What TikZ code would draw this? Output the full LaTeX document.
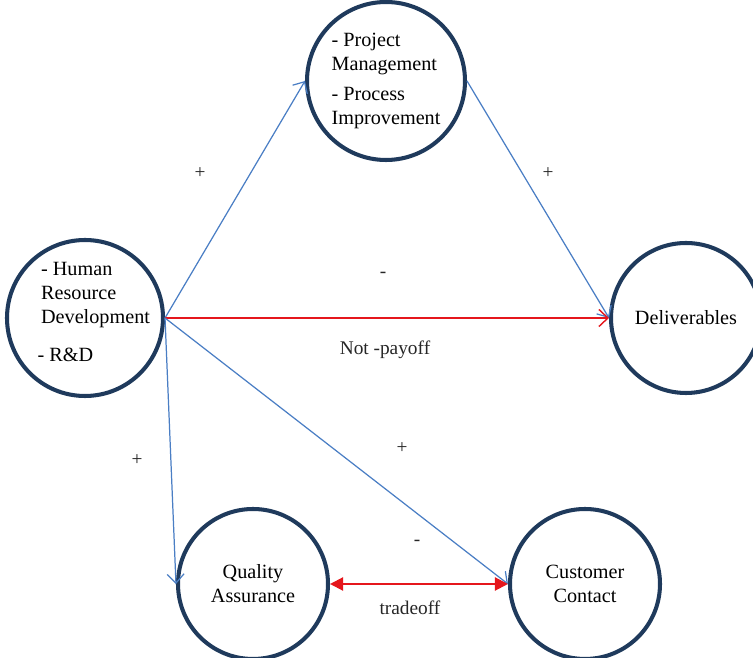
\documentclass[tikz,border=0pt]{standalone}
\usepackage{fontspec}
\setmainfont{Liberation Serif}
\usepackage{tikz}
\usetikzlibrary{arrows.meta}

\definecolor{rim}{HTML}{1F3A5C}
\definecolor{link}{HTML}{4A7EC4}
\definecolor{cost}{HTML}{E5161C}

\tikzset{factor/.style = {circle, draw=rim, line width=2.3pt, minimum size=3cm,
                          inner sep=0pt, align=left, font=\fontsize{11.5}{13.6}\selectfont}}
\tikzset{caption/.style = {inner sep=0pt, align=left, font=\fontsize{11.5}{13.6}\selectfont}}
\tikzset{plus/.style = {link, line width=0.7pt, -{Straight Barb[length=1.8mm,width=3.4mm]}}}
\tikzset{minus/.style = {cost, line width=0.8pt, -{Straight Barb[length=1.8mm,width=3.4mm]}}}
\tikzset{sign/.style = {font=\fontsize{11}{13}\selectfont, text=black!85}}

\begin{document}
\begin{tikzpicture}
        \useasboundingbox (0, 0) rectangle (15.06, 13.16);

        \node [factor, minimum size=3.12cm] (hrd) at ( 1.70,  6.80) {};
        \node [caption, xshift=5pt, yshift=3.5pt] (hrdtext) at (hrd)
            {\hspace*{2pt}- Human\\\hspace*{2pt}Resource\\\hspace*{2pt}Development\\[8pt]- R\&D};
        \node [factor, minimum size=3.16cm] (pm)  at ( 7.72, 11.54)
            {- Project\\Management\\[4pt]- Process\\Improvement};
        \node [factor] (del) at (13.72,  6.80) {Deliverables};
        \node [factor, align=center] (qa)  at ( 5.06,  1.48) {Quality\\Assurance};
        \node [factor, align=center] (cc)  at (11.70,  1.48) {Customer\\Contact};

        \draw [plus]  (hrd.east) -- (pm.west);
        \draw [plus]  (pm.east)  -- (del.west);
        \draw [minus] (hrd.east) -- (del.west);
        \draw [plus]  (hrd.east) -- (qa.west);
        \draw [plus]  (hrd.east) -- (cc.west);
        \draw [cost, line width=1.2pt, {Triangle[length=2.6mm,width=2.6mm]}-{Triangle[length=2.6mm,width=2.6mm]}]
            (qa.east) -- (cc.west);

        \node [sign] (s1) at ( 4.00, 9.70) {+};
        \node [sign] (s2) at (10.96, 9.70) {+};
        \node [sign] (s3) at ( 7.66, 7.66) {-};
        \node [sign] (s4) at ( 7.70, 6.16) {Not -payoff};
        \node [sign] (s5) at ( 2.74, 3.96) {+};
        \node [sign] (s6) at ( 8.04, 4.20) {+};
        \node [sign] (s7) at ( 8.34, 2.30) {-};
        \node [sign] (s8) at ( 8.20, 1.00) {tradeoff};
    \end{tikzpicture}
\end{document}
